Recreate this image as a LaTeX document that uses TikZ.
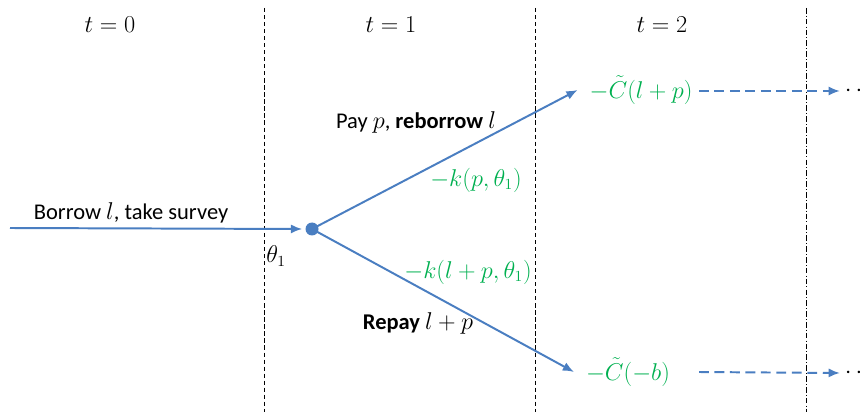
\documentclass[tikz,border=0pt]{standalone}
\usepackage{fontspec}
\setmainfont{Carlito}
\usetikzlibrary{arrows.meta,positioning}
\definecolor{lineblue}{RGB}{74,126,193}
\definecolor{costgreen}{RGB}{0,176,80}
\tikzset{
  period/.style={black,line width=0.7pt,dash pattern=on 3pt off 2pt},
  branch/.style={lineblue,line width=1.4pt,-{Latex[length=8pt,width=6.5pt]}},
  later/.style={branch,dash pattern=on 7pt off 4pt},
  cost/.style={costgreen}
}
\begin{document}
\begin{tikzpicture}[x=0.025cm,y=-0.025cm,font=\fontsize{16}{19}\selectfont]
    \useasboundingbox (0,0) rectangle (860,412);

    % Perioden
    \draw[period] (264,8) -- (264,412);
    \draw[period] (535,8) -- (535,412);
    \draw[black,line width=0.7pt,dash pattern=on 4pt off 1.5pt on 0.7pt off 1.5pt] (806,8) -- (806,412);
    \node (t0) at (110,25) {$t=0$};
    \node (t1) at (391,25) {$t=1$};
    \node (t2) at (662,25) {$t=2$};

    % Entscheidung bei t=1
    \coordinate (start) at (10,228);
    \fill[lineblue] (312,229) circle (6.5) coordinate (dec);
    \node (theta) at (276,256) {$\theta_1$};
    \draw[branch] (start) -- ([xshift=-7]dec.center);
    \node (borrow) at (131,213) {Borrow $l$, take survey};

    % Zweige
    \node[cost] (up) at (641,90) {$-\tilde{C}(l+p)$};
    \node[cost] (down) at (628,372) {$-\tilde{C}(-b)$};
    \draw[branch] (dec) -- ([xshift=-5]up.west);
    \draw[branch] (dec) -- ([xshift=-5]down.west);
    \node (pay) at (416,122) {Pay $p$, \textbf{reborrow} $l$};
    \node[cost] (kup) at (476,180) {$-k(p,\theta_1)$};
    \node[cost] (kdown) at (468,272) {$-k(l+p,\theta_1)$};
    \node (repay) at (418,323) {\textbf{Repay} $l+p$};

    % danach
    \node (dotsup) at (859,91) {$\cdots$};
    \node (dotsdown) at (859,373) {$\cdots$};
    \draw[later] (699,91) -- (dotsup.west);
    \draw[later] (699,372) -- (dotsdown.west);
\end{tikzpicture}
\end{document}
